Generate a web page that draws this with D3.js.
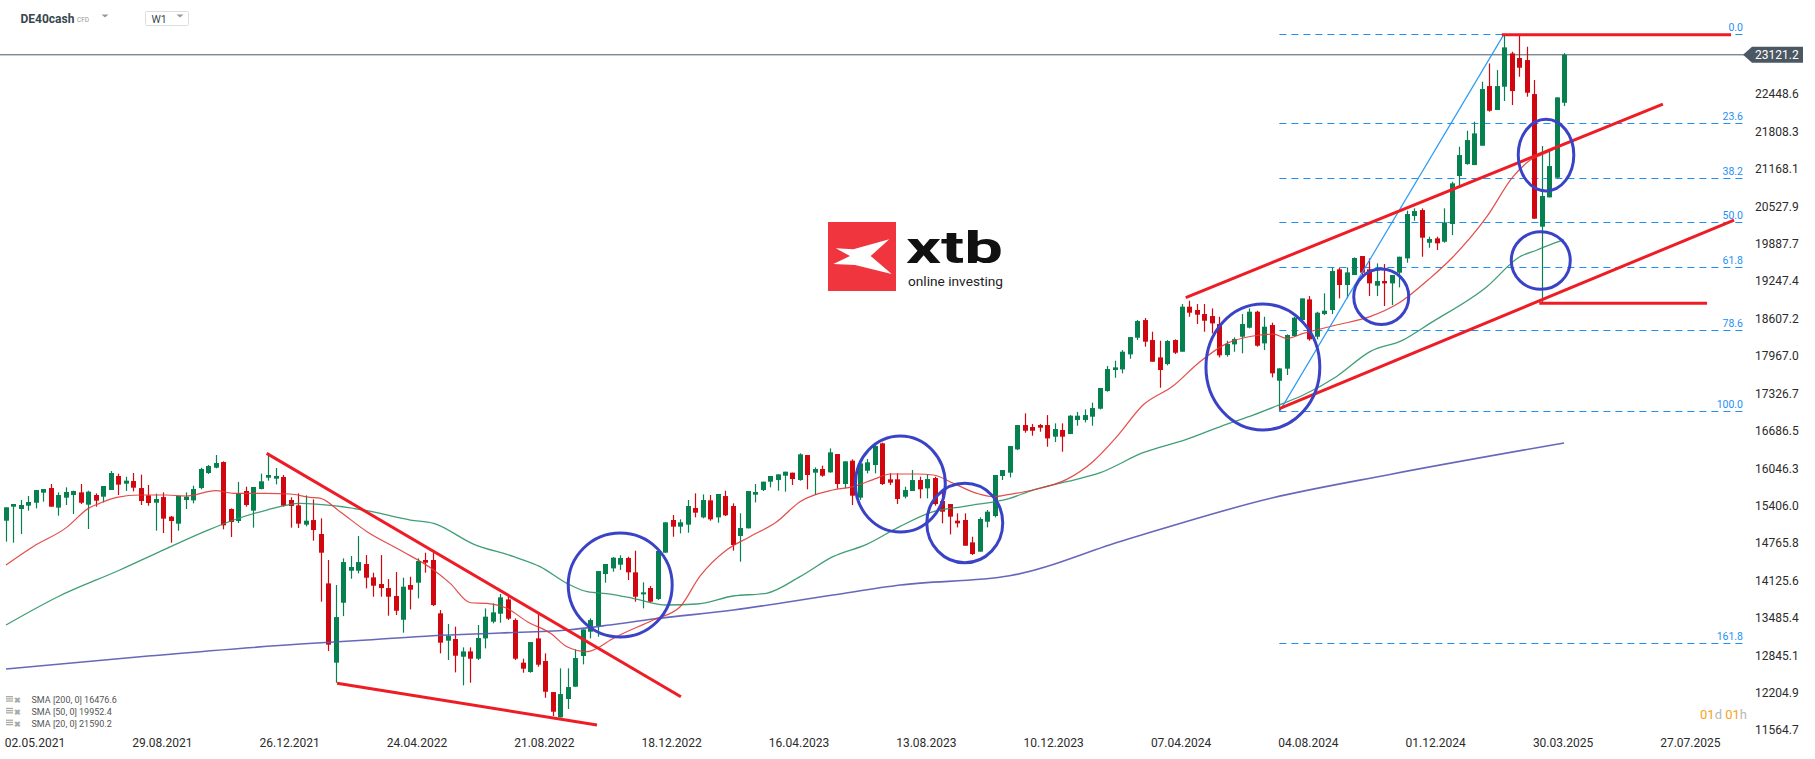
<!DOCTYPE html>
<html><head><meta charset="utf-8">
<script src="https://cdn.jsdelivr.net/npm/d3@7"></script>
<style>
body{margin:0;background:#fff;}
svg{display:block;font-family:Roboto,"Open Sans",sans-serif;}
</style></head><body>
<svg id="chart" width="1815" height="759"></svg>
<script>
// ---------- DATA (weekly candles, DE40cash) ----------
const opens=[15147,15387,15347,15404,15455,15627,15706,15370,15541,15587,15632,15421,15587,15558,15672,15912,15781,15826,15706,15581,15455,15552,15216,15096,15501,15495,15706,15963,16054,16151,15347,15142,15655,15319,15689,15883,15866,15895,15501,15410,15079,15158,14919,14074,12717,13743,14291,14291,14405,14177,14063,13994,13858,13452,14046,14086,14474,14474,13561,13093,13122,12819,12910,12785,13133,13418,13555,13800,13447,12717,12557,13133,12745,12214,11781,12095,12306,12831,13247,13344,14234,14331,14394,14508,14263,13886,13995,13807,14600,15159,15045,15079,15364,15204,15495,15204,15569,15398,14885,15016,15592,15672,15815,15843,15917,15969,15843,16271,15969,16032,15974,16288,15775,16174,15541,16003,16100,16471,15855,15855,15558,15655,15843,15701,15877,15484,15432,15147,15159,14776,14617,15130,15227,15912,15969,16368,16784,16750,16784,16784,16585,16699,16630,16870,16870,16927,17064,17366,17726,17737,17994,18279,18581,18239,17942,17828,18239,18039,18810,18753,18684,18650,18513,17982,18165,18296,18450,18724,18182,18496,17543,17749,18308,18582,18935,18296,18684,18753,19449,19181,19352,19677,19449,19169,19249,19209,19392,19637,20362,20464,19905,19979,19922,20225,21046,21251,21234,21565,22586,22176,22575,23145,23066,23031,22449,20179,20681,21018,22301];
const highs=[15376,15433,15501,15570,15672,15689,15775,15632,15718,15661,15775,15661,15615,15741,15997,15952,15900,15963,15935,15758,15610,15632,15227,15570,15632,15746,16054,16100,16271,16163,15358,15809,15729,15724,15952,16271,16049,15929,15547,15615,15581,15512,15187,14474,14046,14502,14542,14884,14559,14257,14559,14148,14268,14171,14188,14502,14599,14628,13618,13378,13333,12979,12979,13361,13646,13732,13892,13858,13475,12785,13070,13572,12876,12214,12620,12620,12945,13287,13475,14285,14406,14525,14554,14531,14634,14092,14029,14628,15119,15244,15170,15501,15615,15598,15587,15604,15661,15444,15273,15655,15775,15815,15912,15940,15986,15969,16300,16271,16060,16089,16385,16288,16163,16197,16186,16203,16471,16482,15957,15957,15729,16014,15900,15946,15900,15644,15432,15273,15273,14873,15204,15330,15929,16014,16425,16784,16984,16801,16801,16955,16813,16813,16955,17007,17052,17167,17418,17794,17885,18068,18290,18581,18616,18382,18228,18239,18250,18855,18912,18855,18855,18781,18638,18228,18285,18684,18781,18741,18638,18536,17754,18336,18639,18952,18992,18724,19038,19477,19477,19483,19654,19677,19637,19551,19540,19352,19665,20453,20493,20493,20008,20008,20493,20949,21548,21822,21976,22661,22974,22860,23476,23174,23476,23260,22689,21560,21463,22392,23150];
const lows=[14788,14771,14919,15319,15358,15473,15387,15233,15416,15261,15433,15005,15387,15461,15672,15587,15655,15649,15416,15404,14976,14936,14771,14976,15347,15444,15684,15946,16043,14999,14868,15107,15387,15028,15684,15832,15769,15387,15028,15022,15050,14805,13761,12916,12374,13515,14154,14245,13989,13846,13846,13521,13532,13230,13629,13818,14257,13686,12876,12762,12551,12329,12374,12762,12962,13390,13401,13447,12762,12545,12545,12648,12117,11804,11781,11924,12306,12688,13133,13161,14086,14274,14303,14132,13761,13647,13744,13789,14600,14873,14930,14942,15204,15187,15147,15113,15227,14634,14446,15016,15461,15655,15718,15661,15644,15758,15832,15684,15587,15900,15969,15695,15701,15415,15501,15957,15957,15758,15758,15432,15529,15655,15529,15529,15404,15102,14913,15033,14719,14560,14617,15033,15204,15843,15889,16356,16653,16602,16670,16413,16493,16328,16630,16773,16830,16773,17052,17355,17594,17669,17920,18239,18125,17868,17423,17806,18000,18039,18638,18513,18382,18353,17942,17954,18039,18011,18439,18125,18068,17600,17013,17640,18296,18524,18228,18251,18667,18684,18952,18952,19352,19295,18992,18992,18821,18838,19141,19563,20282,19665,19819,19780,19905,20036,20875,21240,21234,21565,22147,22176,22330,22261,22746,22404,20316,18860,20681,21006,22244];
const closes=[15376,15433,15416,15467,15672,15689,15387,15587,15638,15655,15455,15644,15490,15741,15963,15764,15832,15712,15484,15450,15518,15182,15142,15570,15558,15689,16032,16083,16134,15068,15125,15615,15416,15724,15821,15929,15912,15404,15398,15096,15147,14987,14599,13025,13498,14439,14354,14439,14171,14034,13994,13846,13606,14017,13966,14457,14428,13703,13059,13173,12836,12910,12785,13139,13504,13578,13835,13470,12785,12614,13070,12682,12220,11878,12180,12300,12796,13287,13447,14285,14406,14514,14508,14263,13846,13921,13761,14628,15119,15045,15119,15398,15284,15501,15170,15604,15239,14731,15022,15655,15638,15815,15912,15940,15986,15860,16283,15929,16032,15917,16317,15775,16163,15575,16128,16146,16425,15775,15798,15518,15672,15843,15684,15860,15432,15301,15216,15102,14719,14577,15176,15301,15929,16014,16425,16784,16687,16687,16739,16556,16716,16585,16944,16944,16955,17075,17418,17743,17771,18039,18290,18564,18211,17868,17726,18222,18022,18810,18707,18673,18570,18524,17977,18171,18256,18513,18724,18142,18467,17669,17754,18325,18621,18952,18251,18707,18741,19420,19181,19397,19643,19392,19209,19249,19209,19352,19665,20396,20447,19991,19968,19894,20253,20921,21405,21662,21776,22535,22164,22586,23248,22501,22900,22472,20316,20704,21217,22392,23121.2];

// Moving averages (week index, value)
const sma20Idx=[1,4.6,9.1,12,13.5,15.8,18.9,22.4,25,29,31.4,35.8,38.9,41.6,43,45.6,49.2,53.6,58.1,60.3,63,65.2,67.9,70.6,73.7,75.9,78.6,80.3,81.7,87.4,91,93.6,97.2,100.3,103.9,107,111.4,114.1,117.2,119,122.6,124.8,127.5,130.6,132.8,135,138.1,142.6,146.1,149.3,152.8,156.8,160.4,164,167.5,170.2,172,174.2,178.6,183.1,186.9,191.1,194.2,198.7,202.2,204.5,206.7,209];
const sma20Val=[14389,14702,15033,15358,15444,15547,15587,15587,15570,15661,15615,15615,15604,15547,15529,15301,14959,14645,14303,14074,13743,13732,13646,13418,13219,12990,12905,12990,13104,13447,13675,14189,14645,14873,15130,15472,15672,15729,15872,15946,15946,15929,15786,15615,15558,15598,15672,15854,16157,16585,17127,17452,17868,18182,18308,18342,18268,18353,18496,18639,18867,19295,19665,20350,21035,21320,21445,21590.2];
const sma50Idx=[1,8,16.2,22.5,27.8,31.4,35.8,40.3,45,49.2,55,58.1,63.4,68.8,72.3,75.9,78.6,81.7,84.7,89.2,93.2,98.1,102.5,107,111.4,115.9,120.3,124.8,129.2,135,138.1,142.6,147.1,152.8,158.6,164,167.5,170.6,174.2,178.6,183.1,187.5,191.1,198.7,203.1,205.4,207.6,209];
const sma50Val=[13362,13850,14303,14674,14976,15159,15330,15444,15400,15318,15158,15101,14747,14531,14360,14074,13932,13892,13818,13704,13721,13858,13904,14189,14531,14742,15045,15301,15398,15529,15672,15815,15969,16311,16539,16801,16955,17110,17298,17612,18040,18239,18524,19152,19665,19780,19894,19952.4];
const sma200Idx=[1,20,40.3,49.2,58,67,75.9,81.6,87.4,98.1,111.4,120.4,135,150,170,185.6,209];
const sma200Val=[12609,12830,13036,13105,13179,13225,13276,13362,13464,13618,13875,14046,14205,14800,15535,15935,16476.6];

// Axis labels
const priceTicks=[22448.6,21808.3,21168.1,20527.9,19887.7,19247.4,18607.2,17967.0,17326.7,16686.5,16046.3,15406.0,14765.8,14125.6,13485.4,12845.1,12204.9,11564.7];
const lastPrice=23121.2;
const dateLabels=["02.05.2021","29.08.2021","26.12.2021","24.04.2022","21.08.2022","18.12.2022","16.04.2023","13.08.2023","10.12.2023","07.04.2024","04.08.2024","01.12.2024","30.03.2025","27.07.2025"];
const legendNames=["SMA [200,  0]","SMA [50,  0]","SMA [20,  0]"];
const legendValues=[16476.6,19952.4,21590.2];

// Fibonacci retracement (from low to high)
const fibLevels=[0,23.6,38.2,50,61.8,78.6,100,161.8];
const fibHigh=23476, fibLow=17030;
const fibStartIdx=171;

// Drawn trend lines [idx1, price1, idx2, price2]
const trendLines=[
  [35.8,16300,91.1,12133],
  [45.2,12364,79.9,11650],
  [158.5,18966,222.2,22278],
  [171,17065,231.7,20293],
  [200.7,23465,231.3,23465],
  [205.7,18867,228.1,18867]
];
const fibTrend=[171,17013,201,23476];
// Circles: [centerIdx, centerPrice, radiusWeeks, radiusPrice]
const circles=[
  [83.0,14046,6.94,890],
  [120.4,15775,6.0,821],
  [129.0,15107,5.07,679],
  [168.8,17777,7.6,1078],
  [184.6,18980,3.67,474],
  [206.6,21405,3.71,613],
  [205.9,19600,3.94,493]
];

// ---------- DRAW ----------
const svg=d3.select("#chart");
const W=1815,H=759;
svg.append("rect").attr("width",W).attr("height",H).attr("fill","#fff");
const plotRight=1745;
const x=d3.scaleLinear().domain([1,opens.length]).range([6,1564]);
const y=d3.scaleLinear().domain([11564.7,lastPrice]).range([730,54.8]);
const GREEN="#07804f",RED="#d0070f";

// price line
svg.append("line").attr("x1",0).attr("x2",plotRight).attr("y1",y(lastPrice)).attr("y2",y(lastPrice))
  .attr("stroke","#4b5763").attr("stroke-width",1);

// fib lines
const fibX1=x(fibStartIdx);
const gF=svg.append("g");
fibLevels.forEach(l=>{
  const v=fibHigh-(fibHigh-fibLow)*l/100;
  const yy=Math.round(y(v))+0.5;
  gF.append("line").attr("x1",fibX1).attr("x2",plotRight).attr("y1",yy).attr("y2",yy)
    .attr("stroke","#1e8ff5").attr("stroke-width",1).attr("stroke-dasharray","7,5");
  gF.append("text").attr("x",plotRight-2).attr("y",yy-4).attr("text-anchor","end")
    .attr("font-size",10.5).attr("fill","#1e8ff5").text(l.toFixed(1));
});

// candles
const idx=d3.range(1,opens.length+1);
const gC=svg.append("g");
idx.forEach((n,i)=>{
  const o=opens[i],c=closes[i],h=highs[i],l=lows[i];
  const col=c>=o?GREEN:RED;
  const cx=Math.round(x(n));
  gC.append("line").attr("x1",cx+0.5).attr("x2",cx+0.5).attr("y1",y(h)).attr("y2",y(l))
    .attr("stroke",col).attr("stroke-width",1.2);
  const top=y(Math.max(o,c)),bot=y(Math.min(o,c));
  gC.append("rect").attr("x",cx-2).attr("width",5).attr("y",top).attr("height",Math.max(1.2,bot-top)).attr("fill",col);
});

// SMA lines
const line=d3.line().x(d=>x(d[0])).y(d=>y(d[1])).curve(d3.curveMonotoneX);
function smaPath(ix,vals,col,w){
  svg.append("path").datum(ix.map((v,i)=>[v,vals[i]])).attr("d",line)
    .attr("fill","none").attr("stroke",col).attr("stroke-width",w).attr("stroke-opacity",0.9);
}
smaPath(sma200Idx,sma200Val,"#5656b4",1.6);
smaPath(sma50Idx,sma50Val,"#2b9466",1.3);
smaPath(sma20Idx,sma20Val,"#e03a36",1.2);

// fib diagonal
svg.append("line").attr("x1",x(fibTrend[0])).attr("y1",y(fibTrend[1])).attr("x2",x(fibTrend[2])).attr("y2",y(fibTrend[3]))
  .attr("stroke","#2a9af5").attr("stroke-width",1.2);

// red trend lines
trendLines.forEach(t=>{
  svg.append("line").attr("x1",x(t[0])).attr("y1",y(t[1])).attr("x2",x(t[2])).attr("y2",y(t[3]))
    .attr("stroke","#ee1c25").attr("stroke-width",3);
});

// circles
circles.forEach(c=>{
  const cx=x(c[0]),cy=y(c[1]);
  svg.append("ellipse").attr("cx",cx).attr("cy",cy)
    .attr("rx",x(c[0]+c[2])-cx).attr("ry",cy-y(c[1]+c[3]))
    .attr("fill","none").attr("stroke","#3a42c6").attr("stroke-width",3);
});

// right axis
const yAxis=d3.axisRight(y).tickValues(priceTicks).tickSize(0).tickPadding(0).tickFormat(d=>d.toFixed(1));
const gy=svg.append("g").attr("transform","translate(1755,0)").call(yAxis);
gy.select(".domain").remove();
gy.selectAll("text").attr("font-size",12).attr("fill","#2b2b2b").attr("font-family","Roboto,sans-serif");

// last price tag
const ly=y(lastPrice);
svg.append("path").attr("d",`M1743,${ly} L1752,${ly-8} L1803,${ly-8} L1803,${ly+8} L1752,${ly+8} Z`).attr("fill","#4b5763");
svg.append("text").attr("x",1755).attr("y",ly+4.3).attr("font-size",12).attr("fill","#fff").text(lastPrice.toFixed(1));

// bottom axis (labels every 17 weeks)
const firstTick=4.87;
const gx=svg.append("g");
dateLabels.forEach((d,i)=>{
  gx.append("text").attr("x",x(firstTick+17*i)).attr("y",747).attr("text-anchor","middle")
    .attr("font-size",12).attr("fill","#2b2b2b").text(d);
});

// legend
legendNames.forEach((nm,i)=>{
  const yy=703+i*11.8;
  const g=svg.append("g");
  g.append("rect").attr("x",6).attr("y",yy-7).attr("width",7).attr("height",1.3).attr("fill","#aaa");
  g.append("rect").attr("x",6).attr("y",yy-4.8).attr("width",7).attr("height",1.3).attr("fill","#aaa");
  g.append("rect").attr("x",6).attr("y",yy-2.6).attr("width",7).attr("height",1.3).attr("fill","#aaa");
  g.append("text").attr("x",14).attr("y",yy).attr("font-size",8).attr("fill","#aaa").attr("font-weight","bold").text("✖");
  g.append("text").attr("x",31.5).attr("y",yy).attr("font-size",9).attr("fill","#555").text(nm+" "+legendValues[i].toFixed(1));
});

// header
svg.append("text").attr("x",20.5).attr("y",22.5).attr("font-size",12).attr("font-weight","bold").attr("fill","#37474f").text("DE40cash");
svg.append("text").attr("x",77).attr("y",22).attr("font-size",6.5).attr("fill","#999").text("CFD");
svg.append("path").attr("d","M101.5,14.5 L108.5,14.5 L105,17.5 Z").attr("fill","#999");
svg.append("rect").attr("x",145.5).attr("y",11.5).attr("width",43).attr("height",14).attr("fill","#fff").attr("stroke","#ddd").attr("rx",1);
svg.append("text").attr("x",151.5).attr("y",22.5).attr("font-size",10.5).attr("fill","#37474f").text("W1");
svg.append("path").attr("d","M176.5,14.5 L183.5,14.5 L180,17.5 Z").attr("fill","#999");

// countdown
const cd=svg.append("text").attr("x",1747).attr("y",719).attr("text-anchor","end").attr("font-size",13);
cd.append("tspan").attr("fill","#f5a316").text("01");
cd.append("tspan").attr("fill","#b8b8b8").text("d ");
cd.append("tspan").attr("fill","#f5a316").text("01");
cd.append("tspan").attr("fill","#b8b8b8").text("h");

// logo
const lg=svg.append("g");
lg.append("rect").attr("x",828).attr("y",222).attr("width",68).attr("height",69).attr("fill","#f0353f");
lg.append("path").attr("d","M889.3,239.3 L870.7,256 L891.7,274 L855,265 L833.3,264 L850,256 L835.7,248.3 L853.3,249.3 Z").attr("fill","#fff");
lg.append("text").attr("x",906).attr("y",263).attr("font-size",44).attr("font-weight","bold").attr("fill","#111")
  .attr("textLength",97).attr("lengthAdjust","spacingAndGlyphs").text("xtb");
lg.append("text").attr("x",908).attr("y",285.5).attr("font-size",12.5).attr("fill","#222")
  .attr("textLength",95).attr("lengthAdjust","spacingAndGlyphs").text("online investing");
</script>
</body></html>
